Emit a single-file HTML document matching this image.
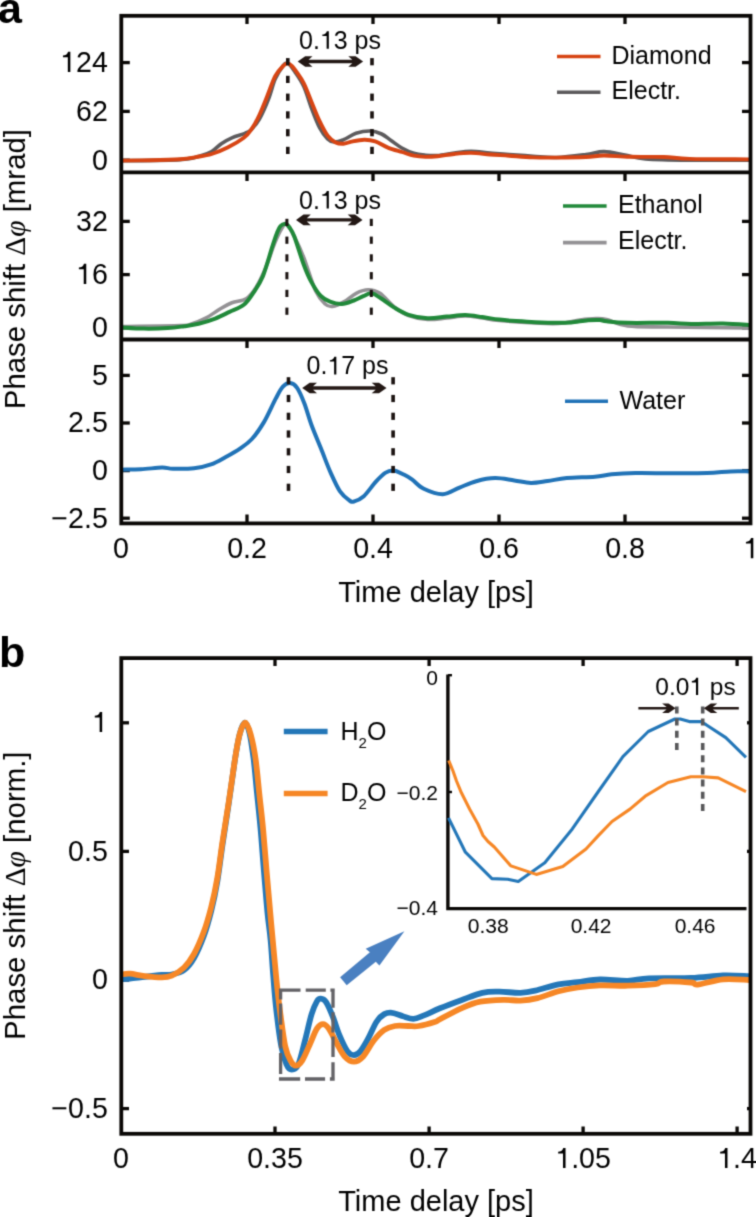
<!DOCTYPE html><html><head><meta charset="utf-8"><title>Figure</title><style>html,body{margin:0;padding:0;background:#fff;width:756px;height:1217px;overflow:hidden}svg{display:block;will-change:transform}text{font-family:"Liberation Sans",sans-serif}.one{fill-opacity:0}</style></head><body><div id="w">
<svg width="756" height="1217" viewBox="0 0 756 1217">
<filter id="bl" x="0" y="0" width="756" height="1217" filterUnits="userSpaceOnUse" color-interpolation-filters="sRGB"><feConvolveMatrix order="3" kernelMatrix="0.0277 0.111 0.0277 0.111 0.445 0.111 0.0277 0.111 0.0277" edgeMode="duplicate"/></filter>
<g filter="url(#bl)">
<rect width="756" height="1217" fill="#fff"/>
<defs><clipPath id="ca"><rect x="121" y="15" width="630" height="508"/></clipPath><clipPath id="cb"><rect x="121" y="658" width="630" height="476"/></clipPath></defs>
<g stroke="#0a0806" stroke-width="3.3"><line x1="247.0" y1="15.0" x2="247.0" y2="24.0"/><line x1="247.0" y1="172.0" x2="247.0" y2="181.0"/><line x1="247.0" y1="339.0" x2="247.0" y2="348.0"/><line x1="247.0" y1="523.0" x2="247.0" y2="514.5"/><line x1="373.0" y1="15.0" x2="373.0" y2="24.0"/><line x1="373.0" y1="172.0" x2="373.0" y2="181.0"/><line x1="373.0" y1="339.0" x2="373.0" y2="348.0"/><line x1="373.0" y1="523.0" x2="373.0" y2="514.5"/><line x1="499.0" y1="15.0" x2="499.0" y2="24.0"/><line x1="499.0" y1="172.0" x2="499.0" y2="181.0"/><line x1="499.0" y1="339.0" x2="499.0" y2="348.0"/><line x1="499.0" y1="523.0" x2="499.0" y2="514.5"/><line x1="625.0" y1="15.0" x2="625.0" y2="24.0"/><line x1="625.0" y1="172.0" x2="625.0" y2="181.0"/><line x1="625.0" y1="339.0" x2="625.0" y2="348.0"/><line x1="625.0" y1="523.0" x2="625.0" y2="514.5"/><line x1="121" y1="62.6" x2="129.8" y2="62.6"/><line x1="750" y1="62.6" x2="742" y2="62.6"/><line x1="121" y1="111.4" x2="129.8" y2="111.4"/><line x1="750" y1="111.4" x2="742" y2="111.4"/><line x1="121" y1="160.2" x2="129.8" y2="160.2"/><line x1="750" y1="160.2" x2="742" y2="160.2"/><line x1="121" y1="221.4" x2="129.8" y2="221.4"/><line x1="750" y1="221.4" x2="742" y2="221.4"/><line x1="121" y1="274.6" x2="129.8" y2="274.6"/><line x1="750" y1="274.6" x2="742" y2="274.6"/><line x1="121" y1="327.8" x2="129.8" y2="327.8"/><line x1="750" y1="327.8" x2="742" y2="327.8"/><line x1="121" y1="375.4" x2="129.8" y2="375.4"/><line x1="750" y1="375.4" x2="742" y2="375.4"/><line x1="121" y1="423.0" x2="129.8" y2="423.0"/><line x1="750" y1="423.0" x2="742" y2="423.0"/><line x1="121" y1="470.6" x2="129.8" y2="470.6"/><line x1="750" y1="470.6" x2="742" y2="470.6"/><line x1="121" y1="518.2" x2="129.8" y2="518.2"/><line x1="750" y1="518.2" x2="742" y2="518.2"/><line x1="275.0" y1="658" x2="275.0" y2="666"/><line x1="275.0" y1="1134" x2="275.0" y2="1126.5"/><line x1="429.1" y1="658" x2="429.1" y2="666"/><line x1="429.1" y1="1134" x2="429.1" y2="1126.5"/><line x1="583.1" y1="658" x2="583.1" y2="666"/><line x1="583.1" y1="1134" x2="583.1" y2="1126.5"/><line x1="737.1" y1="658" x2="737.1" y2="666"/><line x1="737.1" y1="1134" x2="737.1" y2="1126.5"/><line x1="121" y1="722.8" x2="129" y2="722.8"/><line x1="750" y1="722.8" x2="747" y2="722.8"/><line x1="121" y1="851.4" x2="129" y2="851.4"/><line x1="750" y1="851.4" x2="747" y2="851.4"/><line x1="121" y1="980.0" x2="129" y2="980.0"/><line x1="750" y1="980.0" x2="747" y2="980.0"/><line x1="121" y1="1108.6" x2="129" y2="1108.6"/><line x1="750" y1="1108.6" x2="747" y2="1108.6"/></g>
<g fill="none" stroke-linejoin="round" stroke-linecap="round" clip-path="url(#ca)">
<path d="M121.0 160.8C130.8 160.6 166.8 160.4 180.0 159.6C193.2 158.8 194.7 157.3 200.0 156.0C205.3 154.7 208.1 153.7 211.7 151.6C215.2 149.5 217.9 146.0 221.3 143.7C224.8 141.4 228.5 139.3 232.4 137.6C236.3 135.9 241.8 134.7 245.0 133.3C248.2 131.9 249.0 131.8 251.4 129.4C253.8 127.0 256.5 124.2 259.4 119.0C262.3 113.8 266.3 104.7 268.9 98.0C271.5 91.3 272.8 84.3 275.2 79.0C277.6 73.7 280.9 68.6 283.0 66.0C285.1 63.4 286.0 62.5 288.0 63.5C290.0 64.5 292.4 68.2 295.0 72.0C297.6 75.8 301.0 80.4 303.8 86.5C306.6 92.6 309.1 101.8 311.7 108.7C314.3 115.6 317.0 122.8 319.7 127.8C322.4 132.8 325.2 136.5 327.6 138.9C330.0 141.3 331.4 141.9 334.0 142.0C336.6 142.1 339.8 141.1 343.5 139.7C347.2 138.2 351.6 134.8 356.0 133.3C360.4 131.9 365.7 130.9 370.0 131.0C374.3 131.1 378.1 132.4 381.6 134.0C385.1 135.6 387.6 138.2 391.0 140.5C394.4 142.8 398.1 145.9 401.9 148.0C405.7 150.1 409.8 152.1 413.8 153.3C417.8 154.5 421.7 154.8 425.7 155.2C429.7 155.6 432.8 155.9 437.6 155.5C442.4 155.1 448.7 153.7 454.3 153.0C459.9 152.3 465.1 151.4 471.0 151.4C476.9 151.4 483.7 152.5 490.0 153.0C496.3 153.5 501.9 154.0 509.0 154.5C516.1 155.0 524.9 155.7 532.9 156.2C540.9 156.7 547.9 157.8 556.7 157.5C565.6 157.2 578.1 155.5 586.0 154.5C593.9 153.5 597.5 151.5 604.0 151.6C610.5 151.7 617.9 153.8 624.8 155.0C631.7 156.2 634.8 158.0 645.6 158.9C656.4 159.8 672.4 160.0 689.6 160.2C706.8 160.4 739.1 160.2 749.0 160.2" stroke="#5d5b5d" stroke-width="3.6"/>
<path d="M121.0 160.6C125.8 160.5 140.2 160.4 150.0 160.2C159.8 160.0 172.3 159.7 180.0 159.2C187.7 158.7 190.6 158.0 195.9 157.1C201.2 156.2 206.4 155.6 211.7 154.0C217.0 152.4 222.3 150.3 227.6 147.6C232.9 144.9 239.5 141.0 243.5 138.0C247.5 135.0 248.8 133.2 251.4 129.4C254.1 125.6 256.8 120.6 259.4 115.0C262.0 109.4 264.7 102.5 267.3 96.0C269.9 89.5 272.6 81.2 275.2 76.2C277.8 71.2 281.1 67.9 283.2 65.8C285.3 63.7 286.5 63.3 288.0 63.4C289.5 63.5 291.0 65.0 292.3 66.3C293.6 67.6 294.0 68.2 295.9 71.0C297.8 73.8 301.2 78.1 303.8 83.3C306.4 88.5 309.1 96.1 311.7 102.4C314.3 108.8 317.0 115.9 319.7 121.4C322.4 127.0 325.0 132.2 327.6 135.7C330.2 139.2 333.0 141.1 335.6 142.4C338.2 143.7 340.9 143.8 343.5 143.7C346.1 143.6 348.0 142.4 351.4 141.7C354.8 141.0 360.1 139.8 364.1 139.7C368.1 139.6 371.2 140.0 375.2 141.3C379.2 142.6 383.4 145.8 387.9 147.6C392.3 149.4 397.6 150.7 401.9 152.0C406.2 153.3 409.8 154.9 413.8 155.7C417.8 156.5 421.7 156.8 425.7 156.9C429.7 157.0 432.8 156.7 437.6 156.2C442.4 155.7 448.7 154.6 454.3 154.0C459.9 153.4 465.1 152.8 471.0 152.9C476.9 153.0 483.7 154.0 490.0 154.5C496.3 155.0 501.9 155.2 509.0 155.7C516.1 156.2 524.9 157.1 532.9 157.4C540.9 157.7 547.9 157.7 556.7 157.6C565.6 157.5 578.1 157.3 586.0 157.0C593.9 156.7 596.7 155.5 604.0 155.5C611.3 155.5 620.0 156.6 630.0 156.8C640.0 157.1 653.8 156.7 663.7 157.0C673.6 157.3 675.4 158.5 689.6 158.9C703.8 159.3 739.1 159.3 749.0 159.4" stroke="#d74514" stroke-width="3.9"/>
<path d="M121.0 326.5C130.8 326.3 168.3 325.9 180.0 325.5C191.7 325.1 187.1 325.2 191.4 324.0C195.7 322.8 200.9 320.7 205.7 318.2C210.5 315.7 215.6 311.6 220.0 309.0C224.4 306.4 227.5 304.5 231.9 302.8C236.3 301.1 242.2 301.3 246.2 298.8C250.2 296.3 252.5 293.0 255.7 288.0C258.9 283.0 262.0 276.5 265.2 269.0C268.4 261.5 272.0 249.7 274.8 242.9C277.6 236.1 280.0 231.2 282.0 228.0C284.0 224.8 284.5 222.1 286.7 223.8C288.9 225.5 292.1 232.4 295.0 238.0C297.9 243.6 300.4 248.8 303.8 257.6C307.2 266.4 312.1 283.3 315.7 291.0C319.3 298.7 322.4 301.4 325.2 304.0C328.0 306.6 329.2 306.8 332.4 306.4C335.6 306.0 340.3 303.9 344.3 301.7C348.3 299.5 352.2 295.3 356.2 293.3C360.2 291.3 364.1 289.8 368.1 289.8C372.1 289.8 375.6 290.4 380.0 293.3C384.4 296.2 389.5 303.3 394.3 307.0C399.1 310.7 403.1 313.4 408.6 315.5C414.2 317.6 421.2 319.1 427.6 319.5C434.0 319.9 440.4 318.6 446.7 318.0C453.0 317.4 459.5 316.0 465.4 316.0C471.3 316.0 476.6 317.2 482.3 318.0C488.0 318.8 490.5 319.7 499.3 320.5C508.1 321.3 525.3 322.5 535.2 323.0C545.1 323.5 551.0 324.0 558.5 323.5C566.0 323.0 573.8 320.8 580.0 320.0C586.2 319.2 591.6 318.7 596.0 318.6C600.4 318.5 601.3 318.3 606.6 319.5C611.9 320.7 617.5 324.8 627.7 326.0C637.9 327.2 647.8 326.7 668.0 327.0C688.2 327.3 735.5 327.8 749.0 328.0" stroke="#949295" stroke-width="3.6"/>
<path d="M121.0 327.4C124.8 327.6 136.0 328.5 143.8 328.6C151.6 328.7 160.8 328.5 167.6 328.1C174.3 327.7 179.1 326.9 184.3 326.2C189.5 325.5 193.4 325.1 198.6 323.8C203.8 322.5 210.0 320.6 215.2 318.6C220.3 316.6 224.7 314.2 229.5 311.9C234.3 309.6 239.8 308.0 243.8 304.8C247.8 301.6 250.1 297.7 253.3 292.9C256.5 288.1 259.7 283.9 262.9 276.2C266.1 268.4 270.0 253.6 272.4 246.4C274.8 239.2 275.6 236.4 277.0 233.0C278.4 229.6 279.1 227.5 280.5 226.0C281.9 224.5 284.0 223.8 285.5 224.0C287.0 224.2 288.0 225.4 289.5 227.5C291.0 229.6 291.9 230.3 294.3 236.5C296.7 242.7 301.0 257.3 303.8 264.8C306.6 272.3 308.2 276.2 311.0 281.4C313.8 286.5 317.3 292.3 320.5 295.7C323.7 299.1 326.4 300.3 330.0 301.7C333.6 303.1 337.9 304.2 341.9 304.0C345.9 303.8 350.2 301.8 353.8 300.5C357.4 299.2 360.3 297.4 363.3 296.2C366.3 295.0 368.5 292.8 371.7 293.3C374.9 293.8 378.6 296.9 382.4 299.3C386.2 301.7 389.9 305.0 394.3 307.6C398.7 310.2 403.1 313.0 408.6 314.8C414.2 316.6 421.2 318.0 427.6 318.3C434.0 318.6 440.4 317.2 446.7 316.6C453.0 316.1 459.5 314.9 465.4 315.0C471.3 315.1 476.6 316.3 482.3 317.1C488.0 317.9 493.6 318.9 499.3 319.6C505.0 320.3 510.2 320.7 516.2 321.1C522.2 321.5 528.2 321.9 535.2 322.2C542.2 322.5 552.5 322.8 558.5 322.8C564.5 322.8 566.3 322.8 571.2 322.4C576.1 322.0 583.3 320.7 588.1 320.3C592.9 319.9 596.9 319.8 600.0 320.0C603.1 320.2 602.0 320.8 606.6 321.3C611.2 321.8 617.5 322.6 627.7 322.8C637.9 323.1 657.4 322.6 668.0 322.8C678.6 323.0 682.0 323.8 691.2 323.9C700.4 324.0 713.4 323.2 723.0 323.4C732.6 323.6 744.7 324.6 749.0 324.9" stroke="#21893a" stroke-width="4"/>
<path d="M121.0 469.7C124.3 469.6 134.2 469.5 141.0 469.2C147.8 468.9 156.7 467.7 162.0 467.6C167.3 467.5 167.7 468.7 173.0 468.8C178.3 468.9 187.7 469.0 194.0 468.3C200.3 467.6 205.7 466.3 211.0 464.4C216.3 462.5 221.0 459.6 225.8 457.0C230.6 454.4 235.7 451.6 240.0 448.6C244.3 445.6 247.9 443.4 251.9 439.0C255.9 434.6 259.8 429.1 263.8 422.4C267.8 415.7 272.5 404.6 275.7 398.6C278.9 392.7 280.5 389.3 282.9 386.7C285.3 384.1 287.6 382.9 290.0 383.1C292.4 383.3 294.7 384.5 297.1 387.9C299.5 391.3 301.9 397.1 304.3 403.3C306.7 409.5 308.6 417.2 311.4 424.8C314.2 432.4 317.8 440.7 321.0 448.6C324.2 456.5 327.3 465.3 330.5 472.4C333.7 479.5 336.8 486.7 340.0 491.4C343.2 496.1 347.1 498.8 349.5 500.5C351.9 502.2 351.9 502.1 354.3 501.4C356.7 500.7 360.2 499.4 363.8 496.2C367.4 492.9 372.1 485.8 375.7 481.9C379.3 478.0 382.2 474.8 385.2 472.9C388.2 471.0 390.4 470.2 393.6 470.5C396.8 470.8 401.2 473.3 404.3 474.8C407.4 476.3 408.6 477.0 411.9 479.3C415.1 481.6 418.6 486.3 423.8 488.8C429.0 491.3 436.9 494.5 442.9 494.3C448.8 494.1 453.9 489.8 459.5 487.6C465.1 485.4 470.2 482.8 476.2 481.2C482.1 479.6 488.9 478.2 495.2 478.1C501.5 478.0 508.3 479.7 514.3 480.5C520.3 481.3 525.5 482.8 531.0 482.9C536.5 483.0 541.6 481.8 547.6 481.0C553.6 480.2 558.8 478.8 566.7 478.1C574.6 477.4 587.5 477.3 595.0 476.7C602.5 476.1 605.0 474.9 611.7 474.3C618.5 473.7 625.6 473.3 635.5 473.1C645.4 472.9 659.3 473.3 671.2 473.3C683.1 473.3 697.1 473.4 707.0 473.1C716.9 472.8 723.8 471.7 730.8 471.4C737.8 471.1 746.0 471.4 749.0 471.4" stroke="#2173b7" stroke-width="4"/>
</g>
<g fill="none" stroke-linejoin="round" stroke-linecap="round" clip-path="url(#cb)">
<path d="M121.0 979.4C122.5 979.2 126.0 978.9 129.9 978.5C133.8 978.1 139.4 977.4 144.7 976.8C150.0 976.2 157.4 975.4 161.9 975.0C166.4 974.6 168.1 975.3 171.8 974.5C175.5 973.7 180.4 972.8 184.1 970.0C187.8 967.2 190.7 963.7 194.0 958.0C197.3 952.3 200.9 943.8 203.8 936.0C206.7 928.2 208.9 920.2 211.2 911.0C213.5 901.8 215.6 891.8 217.4 881.0C219.2 870.2 220.5 858.7 222.3 846.0C224.2 833.3 226.4 819.0 228.5 805.0C230.6 791.0 232.8 773.8 234.6 762.0C236.4 750.2 237.9 741.0 239.6 734.5C241.3 728.0 243.2 723.0 244.8 722.7C246.5 722.5 248.1 727.1 249.5 733.0C250.9 738.9 252.2 748.0 253.5 758.0C254.8 768.0 255.8 781.3 257.0 793.0C258.2 804.7 259.3 814.8 260.5 828.0C261.7 841.2 262.8 857.8 264.0 872.0C265.2 886.2 266.4 901.7 267.5 913.0C268.6 924.3 269.7 929.7 270.6 940.0C271.6 950.3 272.3 964.0 273.2 975.0C274.1 986.0 274.6 994.3 275.9 1006.1C277.2 1017.9 279.4 1036.1 281.2 1045.8C283.0 1055.5 284.8 1060.3 286.5 1064.3C288.2 1068.3 289.7 1069.6 291.7 1069.6C293.7 1069.6 296.2 1069.1 298.4 1064.3C300.6 1059.5 302.8 1048.9 305.0 1040.5C307.2 1032.1 309.6 1020.6 311.6 1014.1C313.6 1007.6 315.4 1004.0 316.9 1001.4C318.4 998.8 319.3 998.6 320.8 998.7C322.3 998.8 324.1 999.2 326.1 1002.2C328.1 1005.2 330.6 1011.2 332.8 1016.7C335.0 1022.2 337.0 1029.5 339.4 1035.2C341.8 1040.9 344.9 1047.8 347.3 1051.1C349.7 1054.4 351.7 1055.1 353.9 1055.1C356.1 1055.1 358.1 1054.0 360.5 1051.1C362.9 1048.2 365.9 1042.8 368.5 1037.9C371.1 1033.1 373.8 1026.0 376.4 1022.0C379.0 1018.0 381.6 1015.6 384.3 1014.1C387.0 1012.6 389.2 1012.4 392.3 1012.8C395.4 1013.1 399.4 1015.2 402.9 1016.2C406.4 1017.2 409.9 1018.9 413.4 1018.8C416.9 1018.7 419.6 1017.1 424.0 1015.4C428.4 1013.6 433.7 1010.8 439.9 1008.3C446.1 1005.8 454.1 1002.8 461.2 1000.2C468.3 997.6 475.9 994.2 482.3 992.8C488.7 991.4 493.0 991.7 499.3 991.7C505.6 991.7 514.4 993.0 520.4 992.8C526.4 992.6 528.9 992.1 535.2 990.7C541.6 989.3 551.4 985.7 558.5 984.3C565.6 982.9 570.7 983.0 577.6 982.2C584.5 981.4 591.6 979.7 600.0 979.5C608.4 979.3 619.6 981.0 627.7 980.8C635.9 980.6 638.3 978.8 648.9 978.3C659.5 977.8 678.9 978.4 691.2 977.9C703.6 977.4 713.4 975.8 723.0 975.5C732.6 975.2 744.7 976.1 749.0 976.2" stroke="#2477b8" stroke-width="5.8"/>
<path d="M121.0 974.5C122.5 974.4 126.0 973.4 129.9 973.7C133.8 974.0 139.4 975.5 144.7 976.1C150.0 976.7 157.4 977.5 161.9 977.4C166.4 977.3 168.1 977.2 171.8 975.6C175.5 974.0 180.4 971.1 184.1 967.5C187.8 963.9 190.7 960.0 194.0 954.0C197.3 948.0 200.9 939.6 203.8 931.8C206.7 924.0 208.9 916.1 211.2 907.1C213.5 898.1 215.6 888.2 217.4 877.5C219.2 866.8 220.5 855.3 222.3 843.0C224.2 830.7 226.4 817.2 228.5 803.6C230.6 790.0 232.8 773.1 234.6 761.6C236.4 750.1 237.8 741.0 239.6 734.5C241.4 728.0 243.3 722.7 245.2 722.7C247.0 722.7 249.0 728.4 250.7 734.5C252.4 740.6 254.2 749.3 255.6 759.2C257.0 769.1 258.1 782.2 259.3 793.7C260.5 805.2 261.8 815.1 263.0 828.2C264.2 841.4 265.5 858.2 266.7 872.6C267.9 887.0 269.2 900.8 270.4 914.5C271.6 928.2 272.9 942.4 274.1 955.0C275.3 967.6 276.4 980.0 277.5 990.0C278.6 1000.0 279.2 1005.7 280.5 1015.0C281.8 1024.3 283.5 1038.2 285.1 1045.8C286.8 1053.4 288.6 1057.1 290.4 1060.4C292.2 1063.7 293.7 1065.7 295.7 1065.7C297.7 1065.7 299.9 1064.2 302.3 1060.4C304.7 1056.7 307.9 1048.5 310.3 1043.2C312.7 1037.9 314.8 1031.8 316.9 1028.6C319.0 1025.4 321.0 1024.1 323.0 1024.1C325.0 1024.1 326.5 1025.4 328.8 1028.6C331.1 1031.8 334.1 1038.6 336.7 1043.2C339.3 1047.8 341.8 1053.3 344.7 1056.4C347.6 1059.5 350.8 1061.7 353.9 1061.7C357.0 1061.7 359.9 1059.9 363.2 1056.4C366.5 1052.9 370.3 1044.9 373.8 1040.5C377.3 1036.1 380.8 1032.3 384.3 1029.9C387.8 1027.5 390.9 1026.7 394.9 1026.0C398.9 1025.3 404.1 1026.0 408.1 1026.0C412.1 1026.0 414.3 1026.7 418.7 1026.0C423.1 1025.3 431.1 1023.1 434.6 1022.0C438.2 1020.9 435.6 1021.6 440.0 1019.3C444.4 1017.0 454.5 1011.2 461.2 1008.3C467.9 1005.4 473.1 1003.1 480.2 1001.7C487.2 1000.3 496.8 1000.0 503.5 999.8C510.2 999.6 514.8 1000.9 520.4 1000.6C526.0 1000.3 531.0 999.7 537.4 998.1C543.8 996.5 551.8 993.1 558.5 991.3C565.2 989.5 570.7 988.5 577.6 987.5C584.5 986.5 591.6 985.7 600.0 985.4C608.4 985.1 618.5 985.9 627.7 985.7C636.9 985.5 649.3 984.9 655.3 984.2C661.3 983.5 657.7 981.8 663.7 981.5C669.7 981.2 685.6 982.0 691.2 982.5C696.9 983.0 692.3 985.1 697.6 984.6C702.9 984.1 714.4 980.1 723.0 979.3C731.6 978.5 744.7 979.9 749.0 980.0" stroke="#f68726" stroke-width="5.8"/>
</g>
<g stroke="#0a0806" fill="none" stroke-width="3.8">
<rect x="121.3" y="15.8" width="629.2" height="507.6"/>
<line x1="121" y1="172.3" x2="750.5" y2="172.3"/><line x1="121" y1="339.5" x2="750.5" y2="339.5"/>
<rect x="121.3" y="658.1" width="629.2" height="475.7"/>
</g>
<rect x="286.0" y="58.1" width="3.6" height="7.2" fill="#1a1210"/><rect x="286.0" y="75.8" width="3.6" height="7.2" fill="#1a1210"/><rect x="286.0" y="93.6" width="3.6" height="7.2" fill="#1a1210"/><rect x="286.0" y="111.3" width="3.6" height="7.2" fill="#1a1210"/><rect x="286.0" y="129.1" width="3.6" height="7.2" fill="#1a1210"/><rect x="286.0" y="146.8" width="3.6" height="7.2" fill="#1a1210"/>
<rect x="370.2" y="58.1" width="3.6" height="7.2" fill="#1a1210"/><rect x="370.2" y="75.8" width="3.6" height="7.2" fill="#1a1210"/><rect x="370.2" y="93.6" width="3.6" height="7.2" fill="#1a1210"/><rect x="370.2" y="111.3" width="3.6" height="7.2" fill="#1a1210"/><rect x="370.2" y="129.1" width="3.6" height="7.2" fill="#1a1210"/><rect x="370.2" y="146.8" width="3.6" height="7.2" fill="#1a1210"/>
<rect x="285.4" y="218.8" width="3.0" height="7.2" fill="#1a1210"/><rect x="285.4" y="236.6" width="3.0" height="7.2" fill="#1a1210"/><rect x="285.4" y="254.3" width="3.0" height="7.2" fill="#1a1210"/><rect x="285.4" y="272.1" width="3.0" height="7.2" fill="#1a1210"/><rect x="285.4" y="289.8" width="3.0" height="7.2" fill="#1a1210"/><rect x="285.4" y="307.6" width="3.0" height="7.2" fill="#1a1210"/>
<rect x="369.8" y="218.8" width="3.0" height="7.2" fill="#1a1210"/><rect x="369.8" y="236.6" width="3.0" height="7.2" fill="#1a1210"/><rect x="369.8" y="254.3" width="3.0" height="7.2" fill="#1a1210"/><rect x="369.8" y="272.1" width="3.0" height="7.2" fill="#1a1210"/><rect x="369.8" y="289.8" width="3.0" height="7.2" fill="#1a1210"/><rect x="369.8" y="307.6" width="3.0" height="7.2" fill="#1a1210"/>
<rect x="286.7" y="377.2" width="3.6" height="7.2" fill="#1a1210"/><rect x="286.7" y="394.9" width="3.6" height="7.2" fill="#1a1210"/><rect x="286.7" y="412.7" width="3.6" height="7.2" fill="#1a1210"/><rect x="286.7" y="430.4" width="3.6" height="7.2" fill="#1a1210"/><rect x="286.7" y="448.2" width="3.6" height="7.2" fill="#1a1210"/><rect x="286.7" y="465.9" width="3.6" height="7.2" fill="#1a1210"/><rect x="286.7" y="483.7" width="3.6" height="7.2" fill="#1a1210"/>
<rect x="391.3" y="377.2" width="3.6" height="7.2" fill="#1a1210"/><rect x="391.3" y="394.9" width="3.6" height="7.2" fill="#1a1210"/><rect x="391.3" y="412.7" width="3.6" height="7.2" fill="#1a1210"/><rect x="391.3" y="430.4" width="3.6" height="7.2" fill="#1a1210"/><rect x="391.3" y="448.2" width="3.6" height="7.2" fill="#1a1210"/><rect x="391.3" y="465.9" width="3.6" height="7.2" fill="#1a1210"/><rect x="391.3" y="483.7" width="3.6" height="7.2" fill="#1a1210"/>
<path d="M297.7 61.5L305.2 56.2L312.5 56.2L308.5 59.8L352.3 59.8L348.3 56.2L355.6 56.2L363.1 61.5L355.6 66.8L348.3 66.8L352.3 63.2L308.5 63.2L312.5 66.8L305.2 66.8Z" fill="#231815"/>
<path d="M296.0 219.9L303.5 214.6L310.8 214.6L306.8 218.2L351.7 218.2L347.7 214.6L355.0 214.6L362.5 219.9L355.0 225.2L347.7 225.2L351.7 221.6L306.8 221.6L310.8 225.2L303.5 225.2Z" fill="#231815"/>
<path d="M302.2 388.0L309.7 382.7L317.0 382.7L313.0 386.3L375.7 386.3L371.7 382.7L379.0 382.7L386.5 388.0L379.0 393.3L371.7 393.3L375.7 389.7L313.0 389.7L317.0 393.3L309.7 393.3Z" fill="#231815"/>
<g stroke-width="3.6">
<line x1="557" y1="56.5" x2="600.5" y2="56.5" stroke="#d74514"/>
<line x1="557" y1="92.2" x2="600.5" y2="92.2" stroke="#5d5b5d"/>
<line x1="563" y1="206" x2="606.6" y2="206" stroke="#21893a"/>
<line x1="563" y1="242.6" x2="606.6" y2="242.6" stroke="#949295"/>
<line x1="565" y1="401.2" x2="608" y2="401.2" stroke="#2173b7"/>
</g>
<g stroke-width="5.5"><line x1="283.8" y1="731.6" x2="327.6" y2="731.6" stroke="#2477b8"/><line x1="283.8" y1="793.5" x2="327.6" y2="793.5" stroke="#f68726"/></g>
<path d="M279.0 990.1H300.5M305.7 990.1H325.8M330.4 990.1H334.7M279.0 1079H300.2M305.0 1079H325.1M329.9 1079H334.7M280.6 988.5V999.5M280.6 1003.5V1024.8M280.6 1029.4V1048.4M280.6 1053.1V1074.1M280.6 1077.4V1080.7M333 988.5V1007.8M333 1012.3V1032.5M333 1036.6V1057.1M333 1062.3V1080.7" fill="none" stroke="#636266" stroke-width="3.3"/>
<path d="M340.1 977.3L346.7 985.2L375.8 961.8L379.4 965.4L404.4 931.2L365.7 948.7L369.9 952.3Z" fill="#4a80c1"/>
<path d="M447.9 674.5V908.6H746.5" stroke="#0a0806" stroke-width="3.4" fill="none"/>
<g stroke="#0a0806" stroke-width="2.4"><line x1="448" y1="675.2" x2="452" y2="675.2"/><line x1="448" y1="792" x2="452" y2="792"/></g>
<g fill="none" stroke-linejoin="round">
<path d="M448.5 817.9L465.4 852.2L491.9 878.6L507.7 879.3L518.3 881.4L544.8 862.8L572.3 828.9L598.0 792.0L622.9 756.7L648.3 731.5L674.9 719.0L680.2 719.0L689.3 721.6L700.7 721.6L706.1 724.7L725.8 737.6L746.0 757.4" stroke="#2477b8" stroke-width="3.1"/>
<path d="M448.7 760.5L453.0 771.0L456.5 781.0L461.4 792.8L469.7 809.2L477.9 824.0L483.0 835.5L488.0 841.5L494.3 847.0L510.9 865.9L536.3 874.4L562.8 866.6L586.0 849.0L598.8 835.1L612.0 821.5L630.0 809.1L645.2 796.2L668.0 782.5L690.8 776.7L703.0 776.7L718.2 777.9L746.0 791.7" stroke="#f68726" stroke-width="3.1"/>
</g>
<line x1="676.8" y1="706.4" x2="676.8" y2="750.0" stroke="#58585a" stroke-width="3.6" stroke-dasharray="7 5.2"/>
<line x1="702.7" y1="706.4" x2="702.7" y2="811.5" stroke="#58585a" stroke-width="3.6" stroke-dasharray="7 5.2"/>
<path d="M675.6 708.2L668.6 703.4L662.1 703.4L666.6 707.1L638.4 707.1L638.4 709.4L666.6 709.4L662.1 713.0L668.6 713.0Z" fill="#231815"/>
<path d="M703.8 708.2L710.8 703.4L717.3 703.4L712.8 707.1L738.8 707.1L738.8 709.4L712.8 709.4L717.3 713.0L710.8 713.0Z" fill="#231815"/>
<g fill="#000">
<text x="-2" y="22.5" font-size="43" font-weight="bold">a</text>
<text x="-1" y="666.5" font-size="43" font-weight="bold">b</text>
<g font-size="28.6" text-anchor="end">
<text x="107.8" y="71.9"><tspan class="one">1</tspan>24</text>
<text x="107.8" y="120.7">62</text>
<text x="107.8" y="169.5">0</text>
<text x="107.8" y="230.7">32</text>
<text x="107.8" y="283.9"><tspan class="one">1</tspan>6</text>
<text x="107.8" y="337.1">0</text>
<text x="107.8" y="384.7">5</text>
<text x="107.8" y="432.3">2.5</text>
<text x="107.8" y="479.9">0</text>
<text x="107.8" y="527.5">−2.5</text>
<text x="107.8" y="732.1"><tspan class="one">1</tspan></text>
<text x="107.8" y="860.7">0.5</text>
<text x="107.8" y="989.3">0</text>
<text x="107.8" y="1117.9">−0.5</text>
</g><g font-size="28.6" text-anchor="middle">
<text x="121.0" y="558.2">0</text>
<text x="247.0" y="558.2">0.2</text>
<text x="373.0" y="558.2">0.4</text>
<text x="499.0" y="558.2">0.6</text>
<text x="625.0" y="558.2">0.8</text>
<text x="751.0" y="558.2"><tspan class="one">1</tspan></text>
<text x="121.0" y="1168">0</text>
<text x="275.0" y="1168">0.35</text>
<text x="429.1" y="1168">0.7</text>
<text x="583.1" y="1168"><tspan class="one">1</tspan>.05</text>
<text x="737.1" y="1168"><tspan class="one">1</tspan>.4</text>
<text x="436" y="602.2" font-size="29">Time delay [ps]</text>
<text x="436" y="1210.6" font-size="29">Time delay [ps]</text>
</g>
<g font-size="25">
<text x="299" y="48.8">0.<tspan class="one">1</tspan>3 ps</text><text x="299" y="208.5">0.<tspan class="one">1</tspan>3 ps</text><text x="306.5" y="374.4">0.<tspan class="one">1</tspan>7 ps</text>
<text x="611.5" y="64.4">Diamond</text><text x="611.5" y="99.3">Electr.</text>
<text x="618" y="213.1">Ethanol</text><text x="618" y="249.3">Electr.</text>
<text x="619.5" y="408.9">Water</text>
<text x="340.5" y="739.6">H<tspan font-size="15" dy="8">2</tspan><tspan dy="-8">O</tspan></text>
<text x="340.5" y="801.3">D<tspan font-size="15" dy="8">2</tspan><tspan dy="-8">O</tspan></text>
</g>
<text transform="translate(25.2 269.1) rotate(-90)" font-size="29.4" text-anchor="middle">Phase shift <tspan font-family="Liberation Serif">Δ</tspan><tspan font-family="Liberation Serif" font-style="italic">φ</tspan> [mrad]</text>
<text transform="translate(25.2 895.7) rotate(-90)" font-size="29.4" text-anchor="middle">Phase shift <tspan font-family="Liberation Serif">Δ</tspan><tspan font-family="Liberation Serif" font-style="italic">φ</tspan> [norm.]</text>
<g font-size="21" text-anchor="end"><text x="438" y="684.6">0</text><text x="438" y="799.8">−0.2</text><text x="438" y="915">−0.4</text></g>
<g font-size="21" text-anchor="middle"><text x="488.3" y="932.9">0.38</text><text x="591.1" y="932.9">0.42</text><text x="695.1" y="932.9">0.46</text></g>
<text x="655.3" y="695" font-size="24.5">0.0<tspan class="one">1</tspan> ps</text>
</g>
<g fill="#000"><path transform="matrix(0.0286 0 0 -0.0286 60.08 71.90)" d="M359 0H271V511H101V570C180 572 255 600 280 703H359Z"/><path transform="matrix(0.0286 0 0 -0.0286 75.99 283.90)" d="M359 0H271V511H101V570C180 572 255 600 280 703H359Z"/><path transform="matrix(0.0286 0 0 -0.0286 91.89 732.10)" d="M359 0H271V511H101V570C180 572 255 600 280 703H359Z"/><path transform="matrix(0.0286 0 0 -0.0286 743.05 558.20)" d="M359 0H271V511H101V570C180 572 255 600 280 703H359Z"/><path transform="matrix(0.0286 0 0 -0.0286 555.27 1168.00)" d="M359 0H271V511H101V570C180 572 255 600 280 703H359Z"/><path transform="matrix(0.0286 0 0 -0.0286 717.22 1168.00)" d="M359 0H271V511H101V570C180 572 255 600 280 703H359Z"/><path transform="matrix(0.0250 0 0 -0.0250 319.86 48.80)" d="M359 0H271V511H101V570C180 572 255 600 280 703H359Z"/><path transform="matrix(0.0250 0 0 -0.0250 319.86 208.50)" d="M359 0H271V511H101V570C180 572 255 600 280 703H359Z"/><path transform="matrix(0.0250 0 0 -0.0250 327.36 374.40)" d="M359 0H271V511H101V570C180 572 255 600 280 703H359Z"/><path transform="matrix(0.0245 0 0 -0.0245 689.36 695.00)" d="M359 0H271V511H101V570C180 572 255 600 280 703H359Z"/></g>
</g></svg></div></body></html>
